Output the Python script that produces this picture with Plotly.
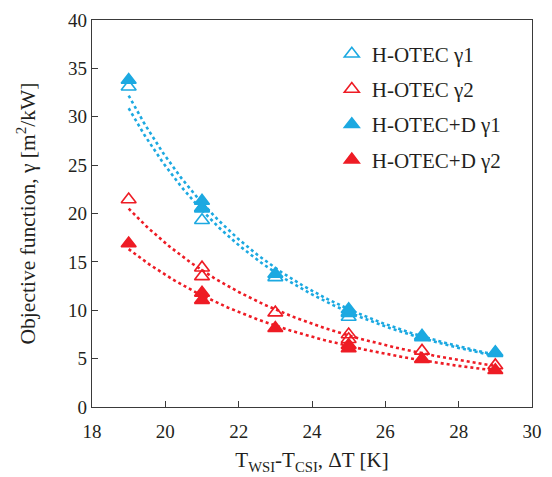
import numpy as np
import plotly.graph_objects as go

# Temperature difference between warm and cold seawater intakes [K]
delta_t = [19, 21, 21, 23, 25, 25, 27, 29]

# Objective function values [m2/kW]
hotec_g1 = [33.1, 20.5, 19.3, 13.4, 9.8, 9.3, 7.2, 5.55]
hotec_g2 = [21.45, 14.4, 13.5, 9.75, 7.5, 7.0, 5.8, 4.3]
hotecd_g1 = [33.8, 21.3, 20.6, 13.75, 10.1, 9.7, 7.35, 5.65]
hotecd_g2 = [16.9, 11.8, 11.05, 8.15, 6.4, 6.05, 4.95, 3.8]

series_names = ["H-OTEC γ1", "H-OTEC γ2", "H-OTEC+D γ1", "H-OTEC+D γ2"]

BLUE = "#1CA9E1"
RED = "#EE1C25"
FONT = "Liberation Serif"
TEXT = "#231F20"

series = [
    (series_names[0], hotec_g1, BLUE, "triangle-up-open"),
    (series_names[1], hotec_g2, RED, "triangle-up-open"),
    (series_names[2], hotecd_g1, BLUE, "triangle-up"),
    (series_names[3], hotecd_g2, RED, "triangle-up"),
]


def power_fit(x, y):
    """Least-squares power-law trendline y = a * x**b (fit in log space)."""
    b, log_a = np.polyfit(np.log(x), np.log(y), 1)
    return np.exp(log_a), b


fig = go.Figure()

# Dotted power-law trendlines
x_fit = np.linspace(min(delta_t), max(delta_t), 200)
for name, vals, color, _ in series:
    a, b = power_fit(np.array(delta_t, float), np.array(vals, float))
    fig.add_trace(go.Scatter(
        x=x_fit, y=a * x_fit ** b, mode="lines",
        line=dict(color=color, width=2.6, dash="dot"),
        showlegend=False, hoverinfo="skip",
    ))

# Data markers
for i, (name, vals, color, symbol) in enumerate(series):
    fig.add_trace(go.Scatter(
        x=delta_t, y=vals, mode="markers", name=name,
        legendgroup=f"g{i}",
        marker=dict(symbol=symbol, size=13, color=color,
                    line=dict(color=color, width=1.6)),
    ))

axis_common = dict(
    showline=True, linecolor="#3a3a3a", linewidth=1.2, mirror=True,
    ticks="inside", ticklen=6, tickwidth=1.2, tickcolor="#3a3a3a",
    showgrid=False, zeroline=False, automargin=False,
    tickfont=dict(family=FONT, size=19, color=TEXT),
)

fig.update_layout(
    width=552, height=477,
    margin=dict(l=92, r=20, t=20, b=70),
    paper_bgcolor="white", plot_bgcolor="white",
    font=dict(family=FONT, color=TEXT),
    xaxis=dict(
        range=[18, 30], dtick=2, ticklabelstandoff=7, **axis_common,
        title=dict(text="T<sub>WSI</sub>-T<sub>CSI</sub>, ΔT [K]",
                   font=dict(family=FONT, size=21), standoff=11),
    ),
    yaxis=dict(
        range=[0, 40], dtick=5, **axis_common,
        title=dict(text="Objective function, γ [m<sup>2</sup>/kW]",
                   font=dict(family=FONT, size=21.5), standoff=26),
    ),
    legend=dict(
        x=0.545, y=0.965, xanchor="left", yanchor="top",
        font=dict(family=FONT, size=21, color=TEXT),
        bgcolor="rgba(0,0,0,0)", tracegroupgap=5,
        traceorder="grouped",
    ),
    showlegend=True,
)

fig.write_html("out.html")
